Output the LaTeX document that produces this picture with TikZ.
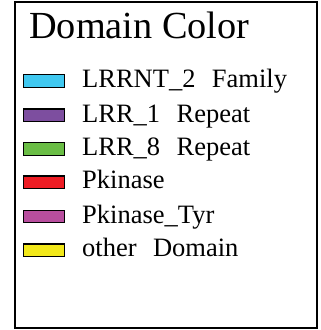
\documentclass[tikz,border=0pt]{standalone}
\usepackage{fontspec}
\setmainfont{Liberation Serif}
\definecolor{cLRRNT}{HTML}{40C8F0}
\definecolor{cLRRone}{HTML}{7D4E9F}
\definecolor{cLRReight}{HTML}{6ABD45}
\definecolor{cPk}{HTML}{EE1C24}
\definecolor{cPkTyr}{HTML}{B84E9E}
\definecolor{cOther}{HTML}{F2E81A}
\tikzset{
  swatch/.style={draw=black, line width=1.2pt, minimum width=41pt, minimum height=12.6pt, inner sep=0pt, anchor=west},
  lbl/.style={anchor=base west, inner sep=0pt, font=\fontsize{26.5}{26.5}\selectfont},
  ttl/.style={anchor=base west, inner sep=0pt, font=\fontsize{38.3}{38.3}\selectfont},
}
\newcommand{\gap}{\hspace{0.62em}}
\begin{document}
\begin{tikzpicture}[x=1pt,y=-1pt]
\useasboundingbox (0,0) rectangle (321,330);
\draw[line width=2pt] (15,2) rectangle (317,328);
\node[ttl] (title) at (29,38.3) {Domain Color};
\node[swatch, fill=cLRRNT] (s1) at (23,81) {};
\node[swatch, fill=cLRRone] (s2) at (23,115.3) {};
\node[swatch, fill=cLRReight] (s3) at (23,149) {};
\node[swatch, fill=cPk] (s4) at (23,182.2) {};
\node[swatch, fill=cPkTyr] (s5) at (23,216.5) {};
\node[swatch, fill=cOther] (s6) at (23,250.2) {};
\node[lbl] (t1) at (82,87.7) {LRRNT\_2\gap Family};
\node[lbl] (t2) at (82,122) {LRR\_1\gap Repeat};
\node[lbl] (t3) at (82,155.7) {LRR\_8\gap Repeat};
\node[lbl] (t4) at (82,188.9) {Pkinase};
\node[lbl] (t5) at (82,223.2) {Pkinase\_Tyr};
\node[lbl] (t6) at (82,256.9) {other\gap Domain};
\end{tikzpicture}
\end{document}
